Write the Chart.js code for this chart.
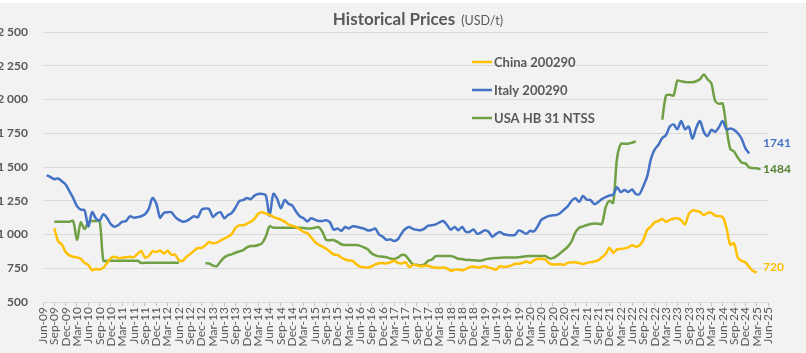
<!DOCTYPE html>
<html>
<head>
<meta charset="utf-8">
<script src="https://cdn.jsdelivr.net/npm/chart.js@4/dist/chart.umd.min.js"></script>
<style>
  html, body { margin: 0; padding: 0; background: #ffffff; }
  #wrap { width: 806px; height: 353px; position: relative; }
</style>
</head>
<body>
<div id="wrap"><canvas id="c"></canvas></div>
<script>
// ---- Categories: monthly, Jun-09 .. Jun-25 ----
const MONTH_NAMES = ['Jan','Feb','Mar','Apr','May','Jun','Jul','Aug','Sep','Oct','Nov','Dec'];
const categories = [];
for (let i = 0; i <= 192; i++) {
  const k = 5 + i;
  categories.push(MONTH_NAMES[k % 12] + '-' + String(9 + Math.floor(k / 12)).padStart(2, '0'));
}

// ---- Series (USD/t), one value per month starting Jun-09 ----
const china200290 = [null,null,null,1045,950,925,870,845,835,830,820,790,
  775,735,745,740,755,790,825,835,825,828,832,836,
  832,855,878,830,840,875,870,882,860,880,850,850,
  810,805,835,855,880,900,900,920,945,935,940,955,
  970,983,1005,1050,1068,1068,1080,1095,1115,1155,1165,1155,
  1145,1130,1120,1110,1095,1075,1065,1055,1040,1019,1010,980,
  946,925,910,895,873,852,849,830,815,808,805,780,
  762,757,756,763,778,787,788,786,795,805,790,785,
  795,760,775,772,765,768,768,758,755,751,755,748,
  732,738,740,735,745,758,763,755,760,765,755,748,
  740,765,760,763,770,783,783,790,800,790,808,819,
  818,815,788,778,778,780,775,792,792,795,788,782,
  790,795,800,808,831,855,902,865,890,892,897,905,
  920,910,920,960,1035,1058,1090,1100,1115,1095,1108,1118,
  1120,1105,1075,1150,1178,1175,1167,1143,1160,1160,1140,1136,
  1130,1050,925,935,830,805,795,760,730,720];

const italy200290 = [null,1440,1425,1410,1415,1395,1370,1320,1270,1210,1185,1180,
  1060,1165,1120,1105,1150,1120,1075,1058,1070,1095,1100,1135,
  1125,1128,1135,1150,1190,1270,1230,1125,1160,1165,1165,1130,
  1108,1095,1100,1117,1135,1128,1183,1192,1188,1130,1155,1165,
  1120,1145,1160,1200,1248,1255,1270,1262,1288,1300,1300,1290,
  1140,1300,1265,1195,1255,1228,1215,1170,1135,1120,1097,1120,
  1110,1100,1100,1105,1090,1035,1045,1027,1056,1045,1061,1058,
  1050,1044,1030,1033,1044,1000,983,960,964,951,965,1010,
  1042,1056,1040,1035,1032,1044,1065,1068,1075,1090,1100,1070,
  1035,1055,1032,1056,1020,1020,1037,1005,1015,1032,1020,983,
  1005,1019,1002,997,995,997,1030,1020,1005,1027,1022,1060,
  1110,1125,1138,1142,1145,1160,1185,1210,1250,1268,1242,1285,
  1258,1255,1225,1240,1262,1277,1289,1295,1350,1314,1330,1315,
  1333,1300,1300,1360,1430,1560,1630,1665,1715,1737,1800,1815,
  1780,1840,1780,1800,1710,1790,1840,1760,1730,1775,1761,1795,
  1840,1778,1785,1775,1750,1710,1640,1600];

const usaHB31NTSS = [null,null,null,1095,1095,1095,1095,1095,1100,960,1090,1040,
  1090,1100,1100,1100,805,805,805,805,805,805,805,805,
  805,805,790,790,790,790,790,790,790,790,790,790,
  790,null,null,null,null,null,null,788,785,770,765,800,
  830,845,853,865,875,885,905,915,915,922,935,985,
  1060,1050,1050,1050,1050,1050,1050,1050,1050,1048,1045,1045,
  1050,1055,1020,960,958,958,945,928,922,922,922,922,
  916,905,890,861,845,838,836,831,822,818,830,848,
  845,810,778,776,770,780,805,815,840,841,841,841,
  840,832,820,818,812,812,810,807,807,815,820,824,
  826,828,829,829,829,829,832,835,839,841,841,841,
  841,841,825,825,840,862,885,910,950,1015,1050,1060,
  1069,1078,1081,1080,1078,1200,1250,1235,1560,1670,1672,1672,
  1680,1690,null,null,null,null,null,null,1850,2030,2035,2030,
  2140,2135,2130,2128,2128,2135,2150,2185,2150,2120,1990,1968,
  1970,1790,1635,1615,1570,1534,1527,1497,1492,1490,1484];

const seriesNames = ['China 200290', 'Italy 200290', 'USA HB 31 NTSS'];
const endLabels = ['720', '1741', '1484'];
const yTicks = [500, 750, 1000, 1250, 1500, 1750, 2000, 2250, 2500];

const COLORS = ['#FFC000', '#4472C4', '#70A044'];
const LABEL_COLORS = ['#FFC000', '#4472C4', '#548235'];
const TEXT = '#595959';
const FONT = 'Lato, "Open Sans", sans-serif';

function fmt(v) {
  if (v >= 1000) return Math.floor(v / 1000) + ' ' + String(v % 1000).padStart(3, '0');
  return String(v);
}

const decor = {
  id: 'decor',
  beforeDraw(chart) {
    const c = chart.ctx;
    c.save();
    c.fillStyle = '#ffffff';
    c.fillRect(0, 0, chart.width, chart.height);
    c.fillStyle = '#F2F2F2';
    c.fillRect(0, 3, chart.width, chart.height - 3);
    c.restore();
  },
  afterDraw(chart) {
    const c = chart.ctx;
    const xs = chart.scales.x, ys = chart.scales.y;
    c.save();
    // Title
    c.textBaseline = 'alphabetic';
    c.font = 'bold 17px ' + FONT;
    const t1 = 'Historical Prices';
    const w1 = c.measureText(t1).width;
    c.font = '12.5px ' + FONT;
    const t2 = '(USD/t)';
    const w2 = c.measureText(t2).width;
    const gap = 6;
    let tx = 418 - (w1 + gap + w2) / 2;
    c.fillStyle = TEXT;
    c.font = 'bold 17px ' + FONT;
    c.textAlign = 'left';
    c.fillText(t1, tx, 25);
    c.font = '12.5px ' + FONT;
    c.fillText(t2, tx + w1 + gap, 25);

    // Legend (inside plot)
    const ly = [62, 90, 118];
    c.font = 'bold 13px ' + FONT;
    c.textBaseline = 'middle';
    chart.data.datasets.forEach((ds, i) => {
      c.strokeStyle = ds.borderColor;
      c.lineWidth = 2.5;
      c.beginPath();
      c.moveTo(472, ly[i]);
      c.lineTo(492, ly[i]);
      c.stroke();
      c.fillStyle = TEXT;
      c.fillText(ds.label, 494, ly[i] + 0.5);
    });

    // End labels
    const dy = [-5, -10, 0];
    c.font = 'bold 12px ' + FONT;
    chart.data.datasets.forEach((ds, i) => {
      let last = ds.data.length - 1;
      while (last > 0 && ds.data[last] == null) last--;
      const y = ys.getPixelForValue(ds.data[last]) + dy[i];
      const x = xs.getPixelForValue(categories.length - 1) - 5;
      c.fillStyle = LABEL_COLORS[i];
      c.fillText(endLabels[i], x, y);
    });
    c.restore();
  }
};

const mk = (i, data) => ({
  label: seriesNames[i],
  data: data,
  borderColor: COLORS[i],
  backgroundColor: COLORS[i],
  borderWidth: 2.5,
  pointRadius: 0,
  tension: 0.3,
  spanGaps: false,
  fill: false
});

new Chart(document.getElementById('c'), {
  type: 'line',
  data: {
    labels: categories,
    datasets: [mk(0, china200290), mk(1, italy200290), mk(2, usaHB31NTSS)]
  },
  options: {
    responsive: true,
    maintainAspectRatio: false,
    devicePixelRatio: 1,
    animation: false,
    layout: { padding: { top: 32, right: 38, bottom: 0, left: 0 } },
    plugins: { legend: { display: false }, title: { display: false }, tooltip: { enabled: false } },
    scales: {
      x: {
        type: 'category',
        offset: false,
        grid: {
          display: true,
          drawOnChartArea: false,
          drawTicks: true,
          tickLength: 4,
          color: (ctx) => (ctx.index % 3 === 0 ? '#BFBFBF' : 'rgba(0,0,0,0)')
        },
        border: { display: true, color: '#D9D9D9' },
        ticks: {
          autoSkip: false,
          maxRotation: 90,
          minRotation: 90,
          padding: 1,
          color: TEXT,
          font: { family: FONT, size: 12 },
          callback: (v, i) => (i % 3 === 0 ? categories[i] : '')
        },
        afterFit: (a) => { a.height = 51; }
      },
      y: {
        min: 500,
        max: 2500,
        afterBuildTicks: (a) => { a.ticks = yTicks.map(v => ({ value: v })); },
        grid: { color: '#D9D9D9', drawTicks: false },
        border: { display: false },
        ticks: {
          padding: 15,
          color: TEXT,
          font: { family: FONT, size: 12, weight: 'bold' },
          callback: (v) => fmt(v)
        },
        afterFit: (a) => { a.width = 43; }
      }
    }
  },
  plugins: [decor]
});
</script>
</body>
</html>
